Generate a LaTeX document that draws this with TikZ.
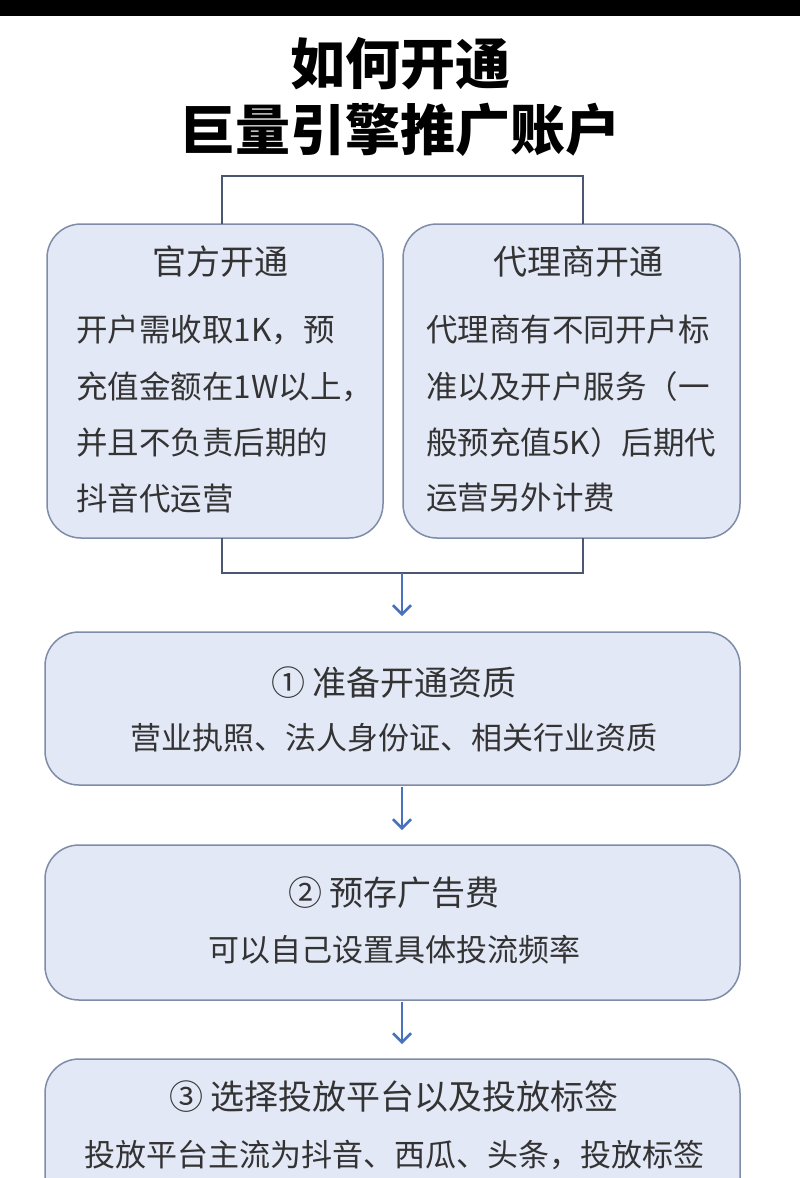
\documentclass[tikz,border=0pt]{standalone}
\usepackage{fontspec}
\setmainfont{Noto Sans CJK SC}
\usetikzlibrary{arrows.meta}
\definecolor{bfill}{HTML}{E3E8F6}
\definecolor{bdraw}{HTML}{7F8CA8}
\definecolor{lnk}{HTML}{4B5670}
\definecolor{arr}{HTML}{4A72BC}
\definecolor{txt}{HTML}{333333}
\tikzset{
  card/.style={draw=bdraw,fill=bfill,line width=1.5pt,rounded corners=34pt},
  link/.style={draw=lnk,line width=2pt},
  flow/.style={draw=arr,line width=2.5pt,-{Straight Barb[length=9pt,width=18pt,line width=2.5pt]}},
  ttl/.style={font=\fontsize{55}{58}\selectfont\bfseries,text=black},
  hd/.style={font=\fontsize{34}{36}\selectfont,text=txt,inner sep=0},
  bd/.style={font=\fontsize{31.5}{33}\selectfont,text=txt,inner sep=0,anchor=west},
  bc/.style={font=\fontsize{31}{33}\selectfont,text=txt,inner sep=0}
}
\begin{document}
\begin{tikzpicture}[x=1pt,y=-1pt]
\useasboundingbox (0,0) rectangle (800,1178);
\clip (0,0) rectangle (800,1178);
\fill[white] (0,0) rectangle (800,1178);
\fill[black] (0,0) rectangle (800,16);
\node[ttl] (t1) at (400,64) {如何开通};
\node[ttl] (t2) at (400,130) {巨量引擎推广账户};
% boxes
\draw[card] (47,224) rectangle (383,538);
\draw[card] (403,224) rectangle (740,538);
\coordinate (lt) at (222,224); \coordinate (rt) at (583,224);
\coordinate (lb) at (222,538); \coordinate (rb) at (583,538);
\draw[link] (lt) |- (400,176) -| (rt);
\draw[link] (lb) |- (400,573) -| (rb);
\coordinate (m) at (402,573);
\node[hd] (lh) at (220,262) {官方开通};
\node[bd] (l1) at (76,330) {开户需收取1K，预};
\node[bd] (l2) at (76,387) {充值金额在1W以上，};
\node[bd] (l3) at (76,443) {并且不负责后期的};
\node[bd] (l4) at (76,498) {抖音代运营};
\node[hd] (rh) at (578,262) {代理商开通};
\node[bd] (r1) at (426,330) {代理商有不同开户标};
\node[bd] (r2) at (426,387) {准以及开户服务（一};
\node[bd] (r3) at (426,443) {般预充值5K）后期代};
\node[bd] (r4) at (426,498) {运营另外计费};
% steps
\draw[card] (45,632) rectangle (740,785);
\node[hd] (s1) at (394,683) {① 准备开通资质};
\node[bc] (s1b) at (394,738) {营业执照、法人身份证、相关行业资质};
\draw[card] (45,845) rectangle (740,1000);
\node[hd] (s2) at (394,893) {② 预存广告费};
\node[bc] (s2b) at (394,950) {可以自己设置具体投流频率};
\draw[card] (45,1059) rectangle (740,1260);
\node[hd] (s3) at (394,1097) {③ 选择投放平台以及投放标签};
\node[bc] (s3b) at (394,1155) {投放平台主流为抖音、西瓜、头条，投放标签};
\draw[flow] (m) -- (402,616);
\draw[flow] (402,787) -- (402,830);
\draw[flow] (402,1002) -- (402,1044);
\end{tikzpicture}
\end{document}
